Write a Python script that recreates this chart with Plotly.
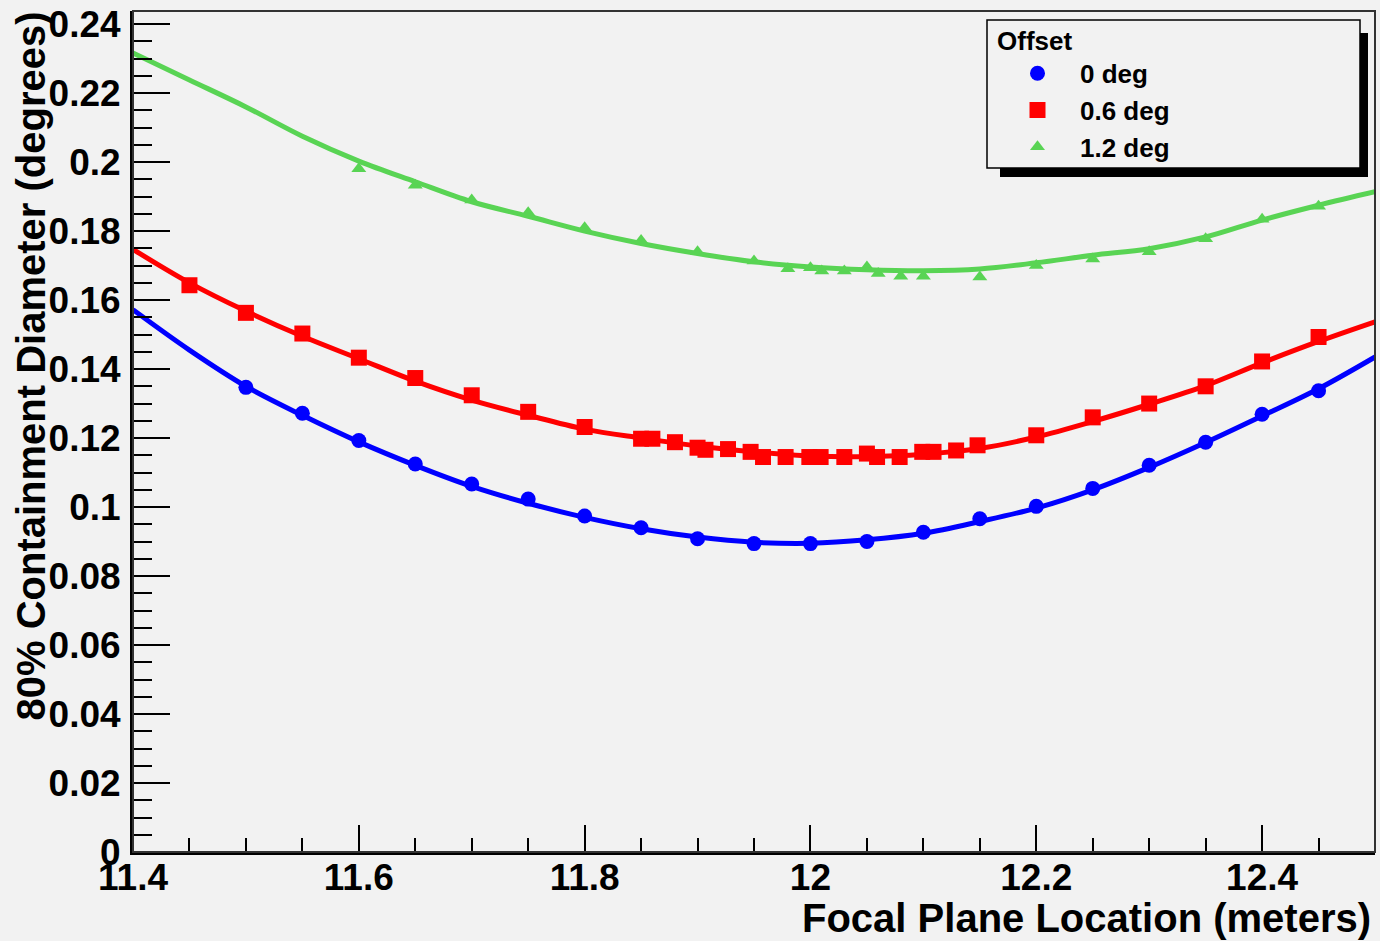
import plotly.graph_objects as go

# ---------------- data ----------------
SERIES_NAMES = ["0 deg", "0.6 deg", "1.2 deg"]

X_BLUE = [11.5, 11.55, 11.6, 11.65, 11.7, 11.75, 11.8, 11.85, 11.9, 11.95, 12.0,
          12.05, 12.1, 12.15, 12.2, 12.25, 12.3, 12.35, 12.4, 12.45]
Y_BLUE = [0.1347, 0.1272, 0.1193, 0.1125, 0.1067, 0.1023, 0.0974, 0.0940, 0.0908, 0.0894, 0.0894,
          0.0900, 0.0927, 0.0966, 0.1002, 0.1054, 0.1121, 0.1188, 0.1269, 0.1337]

X_RED = [11.45, 11.5, 11.55, 11.6, 11.65, 11.7, 11.75, 11.8, 11.85, 11.86, 11.88, 11.9, 11.907,
         11.927, 11.947, 11.958, 11.978, 11.999, 12.009, 12.03, 12.05, 12.059, 12.079, 12.099,
         12.109, 12.129, 12.148, 12.2, 12.25, 12.3, 12.35, 12.4, 12.45]
Y_RED = [0.1643, 0.1563, 0.1503, 0.1433, 0.1374, 0.1324, 0.1276, 0.1232, 0.1198, 0.1198, 0.1188, 0.1172, 0.1166,
         0.1168, 0.1160, 0.1145, 0.1145, 0.1145, 0.1145, 0.1145, 0.1155, 0.1145, 0.1145, 0.1160,
         0.1160, 0.1164, 0.1179, 0.1208, 0.1260, 0.1300, 0.1350, 0.1422, 0.1493]

X_GREEN = [11.6, 11.65, 11.7, 11.75, 11.8, 11.85, 11.9, 11.95, 11.98, 12.0, 12.01, 12.03, 12.05,
           12.06, 12.08, 12.1, 12.15, 12.2, 12.25, 12.3, 12.35, 12.4, 12.45]
Y_GREEN = [0.1981, 0.1933, 0.1890, 0.1853, 0.1810, 0.1773, 0.1740, 0.1713, 0.1691, 0.1694, 0.1684, 0.1684, 0.1696,
           0.1677, 0.1669, 0.1669, 0.1667, 0.1700, 0.1719, 0.1740, 0.1778, 0.1834, 0.1872]

# fitted curves
FIT_X = [11.4, 11.45, 11.5, 11.55, 11.6, 11.65, 11.7, 11.75, 11.8, 11.85, 11.9, 11.95, 12.0,
         12.05, 12.1, 12.15, 12.2, 12.25, 12.3, 12.35, 12.4, 12.45, 12.5]
FIT_BLUE = [0.1572, 0.1455, 0.1350, 0.1266, 0.1189, 0.1121, 0.1060, 0.1011, 0.0970, 0.0937, 0.0913, 0.0898, 0.0895,
            0.0905, 0.0924, 0.0958, 0.0997, 0.1050, 0.1115, 0.1187, 0.1264, 0.1343, 0.1435]
FIT_RED = [0.1747, 0.1650, 0.1568, 0.1495, 0.1430, 0.1365, 0.1310, 0.1266, 0.1226, 0.1200, 0.1177, 0.1160, 0.1148,
           0.1146, 0.1153, 0.1170, 0.1203, 0.1248, 0.1298, 0.1352, 0.1418, 0.1480, 0.1537]
FIT_GREEN = [0.2316, 0.2238, 0.2160, 0.2075, 0.2003, 0.1943, 0.1885, 0.1843, 0.1800, 0.1764, 0.1735, 0.1711, 0.1696,
             0.1688, 0.1685, 0.1690, 0.1708, 0.1730, 0.1749, 0.1783, 0.1832, 0.1875, 0.1914]

X_TITLE = "Focal Plane Location (meters)"
Y_TITLE = "80% Containment Diameter (degrees)"
LEGEND_TITLE = "Offset"

# ---------------- styling ----------------
BG = "#f2f2f2"
BLUE = "#0000ff"
RED = "#ff0000"
GREEN = "#59d454"
FONT = "Liberation Sans"

W, H = 1380, 941
ML, MR, MT, MB = 133, 5, 11, 89
PW, PH = W - ML - MR, H - MT - MB


def px(x):
    return (x - ML) / PW


def py(y):
    return (H - MB - y) / PH


fig = go.Figure()

marker_specs = [
    (X_BLUE, Y_BLUE, BLUE, "circle", 15),
    (X_RED, Y_RED, RED, "square", 16),
    (X_GREEN, Y_GREEN, GREEN, "triangle-up", 13),
]
for name, (xs, ys, col, sym, sz) in zip(SERIES_NAMES, marker_specs):
    fig.add_trace(go.Scatter(
        x=xs, y=ys, mode="markers", name=name,
        marker=dict(color=col, symbol=sym, size=sz, line=dict(width=0)),
    ))

for fy, col in [(FIT_BLUE, BLUE), (FIT_RED, RED), (FIT_GREEN, GREEN)]:
    fig.add_trace(go.Scatter(
        x=FIT_X, y=fy, mode="lines", showlegend=False, hoverinfo="skip",
        line=dict(color=col, width=5, shape="spline", smoothing=1.0),
    ))

tickfont = dict(family=FONT, size=37, color="black", weight="bold")

fig.update_xaxes(
    range=[11.4, 12.5], tick0=11.4, dtick=0.2, ticks="inside", ticklen=27, tickwidth=2,
    tickcolor="black", showline=True, linewidth=3, linecolor="black", mirror=False,
    showgrid=False, zeroline=False, tickfont=tickfont, ticklabelstandoff=-9,
    minor=dict(dtick=0.05, ticks="inside", ticklen=14, tickwidth=2, tickcolor="black", showgrid=False),
)
fig.update_yaxes(
    range=[0, 0.2438], tick0=0, dtick=0.02, ticks="inside", ticklen=37, tickwidth=2,
    tickcolor="black", showline=True, linewidth=3, linecolor="black", mirror=False,
    showgrid=False, zeroline=False, tickfont=tickfont, ticklabelstandoff=2,
    minor=dict(dtick=0.005, ticks="inside", ticklen=19, tickwidth=2, tickcolor="black", showgrid=False),
)

shapes = [
    # top/right frame
    dict(type="rect", xref="paper", yref="paper", x0=0, x1=1, y0=0, y1=1,
         line=dict(color="#333333", width=2), fillcolor="rgba(0,0,0,0)", layer="above"),
    # legend shadow
    dict(type="rect", xref="paper", yref="paper", x0=px(1000), x1=px(1368), y0=py(177), y1=py(33),
         line=dict(width=0), fillcolor="black", layer="above"),
    # legend box
    dict(type="rect", xref="paper", yref="paper", x0=px(987), x1=px(1360), y0=py(168), y1=py(20),
         line=dict(color="black", width=1.5), fillcolor=BG, layer="above"),
]

annotations = [
    dict(text=X_TITLE, xref="paper", yref="paper", x=px(1373), y=py(918),
         xanchor="right", yanchor="middle", showarrow=False,
         font=dict(family=FONT, size=40, color="black", weight="bold")),
    dict(text=Y_TITLE, xref="paper", yref="paper", x=px(31), y=py(10),
         xanchor="center", yanchor="top", showarrow=False, textangle=-90,
         font=dict(family=FONT, size=40, color="black", weight="bold")),
]

fig.update_layout(
    width=W, height=H,
    margin=dict(l=ML, r=MR, t=MT, b=MB, pad=0),
    paper_bgcolor=BG, plot_bgcolor=BG,
    shapes=shapes, annotations=annotations,
    showlegend=True,
    legend=dict(
        x=px(995), y=py(16), xanchor="left", yanchor="top",
        bgcolor="rgba(0,0,0,0)", borderwidth=0,
        title=dict(text=LEGEND_TITLE, font=dict(family=FONT, size=26, color="black", weight="bold")),
        font=dict(family=FONT, size=26, color="black", weight="bold"),
        itemwidth=75, traceorder="normal",
    ),
)

fig.write_html("out.html", config={"displayModeBar": False},
               post_script="document.body.style.margin='0';")
